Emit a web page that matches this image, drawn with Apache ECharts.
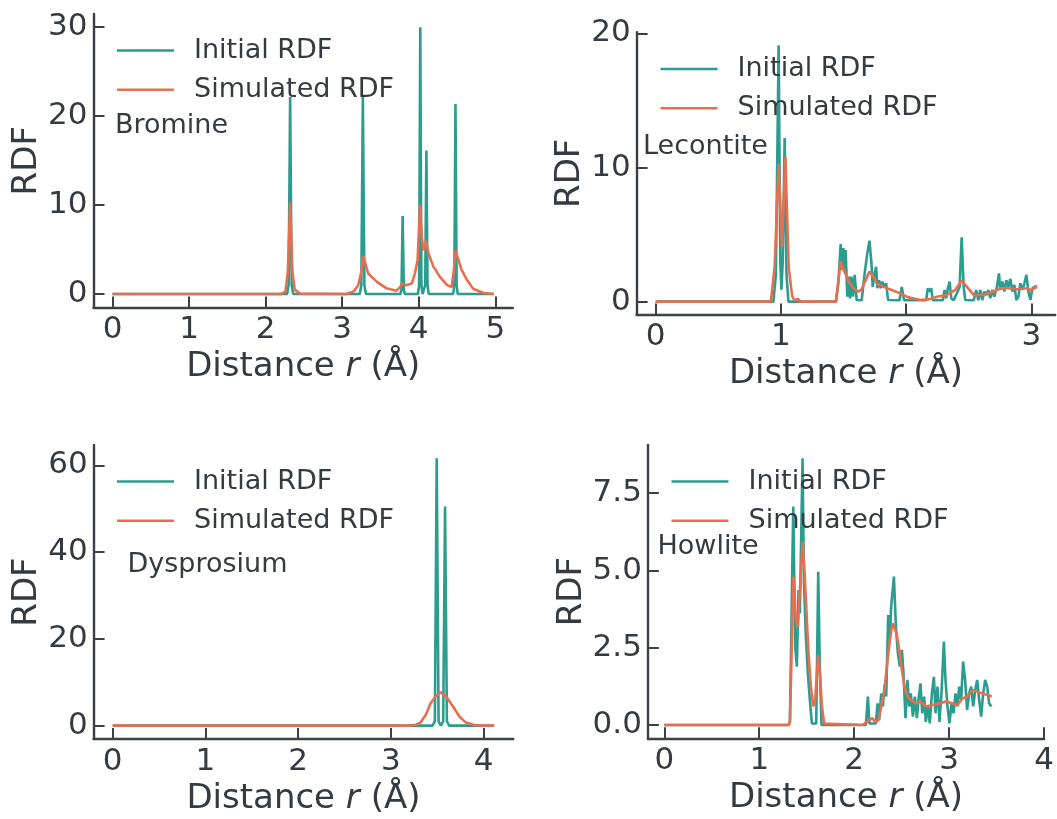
<!DOCTYPE html>
<html>
<head>
<meta charset="utf-8">
<script src="https://cdn.jsdelivr.net/npm/echarts@6/dist/echarts.min.js"></script>
<style>
html,body{margin:0;padding:0;background:#fff;}
#chart{width:1057px;height:819px;}
</style>
</head>
<body>
<div id="chart"></div>
<script>
// ---------- data (x = distance r in Å, y = RDF) ----------
const legendNames = ['Initial RDF', 'Simulated RDF'];
const panelNames = ['Bromine', 'Lecontite', 'Dysprosium', 'Howlite'];

const bromineInitial = [[0,0],[2.28,0],[2.30,1],[2.32,22.1],[2.34,1],[2.36,0],[3.23,0],[3.25,1],[3.27,22.1],[3.29,1],[3.31,0],[3.76,0],[3.775,0.5],[3.79,8.75],[3.805,0.5],[3.82,0],[3.99,0],[4.005,1],[4.02,29.9],[4.035,1],[4.05,0],[4.07,0],[4.085,1],[4.10,16.1],[4.115,1],[4.13,0],[4.45,0],[4.465,1],[4.48,21.3],[4.495,1],[4.51,0],[4.98,0]];
const bromineSimulated = [[0,0],[2.2,0],[2.26,0.3],[2.29,2.5],[2.32,10.3],[2.35,2.5],[2.38,0.5],[2.45,0.05],[3.05,0],[3.15,0.3],[3.21,1.0],[3.25,2.5],[3.276,4.27],[3.34,2.3],[3.45,1.4],[3.58,0.64],[3.71,0.38],[3.76,0.8],[3.78,1.2],[3.80,1.4],[3.84,1.0],[3.91,1.2],[3.95,2.3],[3.985,3.8],[4.017,10.0],[4.04,6.4],[4.06,4.9],[4.095,6.0],[4.125,4.6],[4.19,3.1],[4.28,1.9],[4.37,1.0],[4.43,0.8],[4.46,2.7],[4.48,4.9],[4.52,3.8],[4.56,2.7],[4.63,1.6],[4.71,0.6],[4.84,0.15],[4.98,0]];

const lecontiteInitial = [[0,0],[0.94,0],[0.96,2],[0.982,19.1],[0.995,3],[1.004,0.9],[1.015,3],[1.03,12.2],[1.045,2],[1.06,0],[1.44,0],[1.46,1.5],[1.477,4.3],[1.488,2.36],[1.499,4.0],[1.509,2.4],[1.517,3.85],[1.53,0.37],[1.541,1.86],[1.552,0.25],[1.563,1.86],[1.576,0.37],[1.589,2.0],[1.605,0.12],[1.645,0.1],[1.672,2.36],[1.69,3.6],[1.707,4.55],[1.723,2.86],[1.733,1.1],[1.747,2.0],[1.76,2.6],[1.771,1.0],[1.784,1.6],[1.797,1.0],[1.81,1.5],[1.824,1.1],[1.84,1.37],[1.856,0.12],[1.947,0.1],[1.965,1.1],[1.984,0.1],[2.16,0.1],[2.173,1.0],[2.187,0.75],[2.2,1.0],[2.213,0.1],[2.293,0.1],[2.307,0.87],[2.32,0.25],[2.333,1.0],[2.347,1.5],[2.36,0.25],[2.38,0.1],[2.427,1.1],[2.443,4.8],[2.459,1.1],[2.472,0.12],[2.539,0.1],[2.56,0.87],[2.576,0.1],[2.592,0.87],[2.608,0.1],[2.624,0.75],[2.64,0.5],[2.656,0.87],[2.672,0.25],[2.688,0.87],[2.704,0.37],[2.725,1.1],[2.741,2.1],[2.752,0.87],[2.768,1.5],[2.784,0.75],[2.8,1.6],[2.816,1.1],[2.832,1.7],[2.848,0.75],[2.864,1.25],[2.88,0.12],[2.896,0.37],[2.912,1.37],[2.928,0.87],[2.944,1.37],[2.96,2.0],[2.976,0.75],[2.992,0.12],[3.008,1.0],[3.024,1.1],[3.045,1.17]];
const lecontiteSimulated = [[0,0],[0.92,0],[0.95,2.6],[0.982,10.3],[1.009,4.1],[1.036,10.8],[1.062,2.6],[1.09,0.4],[1.11,0.1],[1.136,0.2],[1.16,0],[1.44,0],[1.459,1.6],[1.477,3.0],[1.499,2.36],[1.52,2.0],[1.541,1.5],[1.579,1.0],[1.619,0.75],[1.645,0.92],[1.672,1.5],[1.707,2.24],[1.739,1.86],[1.765,1.37],[1.819,1.1],[1.885,0.87],[1.952,0.62],[2.019,0.32],[2.112,0.12],[2.179,0.17],[2.245,0.37],[2.325,0.5],[2.392,0.87],[2.443,1.57],[2.485,1.1],[2.539,0.5],[2.619,0.5],[2.699,0.75],[2.752,1.0],[2.819,1.0],[2.885,0.92],[2.965,1.0],[2.997,0.87],[3.045,1.1]];

const dysprosiumInitial = [[0,0],[3.45,0],[3.475,1],[3.495,61.6],[3.515,1],[3.54,0],[3.565,1],[3.585,50.5],[3.605,1],[3.63,0],[4.115,0]];
const dysprosiumSimulated = [[0,0],[3.2,0],[3.27,0.2],[3.32,0.7],[3.378,2.5],[3.43,5.2],[3.49,6.9],[3.54,7.7],[3.61,6.3],[3.67,4.4],[3.74,2.1],[3.81,0.7],[3.90,0.16],[3.98,0],[4.115,0]];

const howliteInitial = [[0,0],[1.31,0],[1.323,0.1],[1.358,7.07],[1.379,2.53],[1.396,1.89],[1.414,4.37],[1.428,3.61],[1.456,8.63],[1.47,4.69],[1.491,2.86],[1.512,1.67],[1.533,0.81],[1.554,0.05],[1.6,0.05],[1.621,4.96],[1.639,1.67],[1.656,0],[2.123,0],[2.144,0.92],[2.16,0.05],[2.228,0.05],[2.246,0.7],[2.263,0.16],[2.284,1.02],[2.302,0.6],[2.319,1.3],[2.337,0.92],[2.358,3.56],[2.372,2.64],[2.389,3.83],[2.418,4.8],[2.439,3.18],[2.46,2.32],[2.481,1.89],[2.502,2.43],[2.519,1.67],[2.54,0.22],[2.561,1.46],[2.579,0.6],[2.596,1.02],[2.618,0.27],[2.639,0.92],[2.66,0.22],[2.677,0.81],[2.698,1.35],[2.716,0.38],[2.737,0.92],[2.754,0.1],[2.775,0.6],[2.796,0.05],[2.818,1.02],[2.839,1.56],[2.856,0.38],[2.877,1.24],[2.898,0.1],[2.919,1.02],[2.944,2.7],[2.961,1.46],[2.982,0.6],[3.003,0.05],[3.025,0.7],[3.046,0.38],[3.067,1.02],[3.088,0.6],[3.105,1.24],[3.126,0.81],[3.147,2.05],[3.168,1.46],[3.189,0.49],[3.21,1.02],[3.232,1.24],[3.253,0.6],[3.274,1.13],[3.295,1.46],[3.316,0.81],[3.337,0.27],[3.358,1.02],[3.379,1.46],[3.4,1.24],[3.421,0.7],[3.445,0.6]];
const howliteSimulated = [[0,0],[1.31,0],[1.323,0.1],[1.344,2.75],[1.361,4.8],[1.386,3.4],[1.407,3.18],[1.428,4.37],[1.456,5.93],[1.477,4.96],[1.498,3.61],[1.519,2.32],[1.544,1.24],[1.568,0.6],[1.589,0.81],[1.607,1.67],[1.621,2.27],[1.639,1.67],[1.66,0.6],[1.684,0.05],[2.088,0],[2.123,0.08],[2.158,0.16],[2.193,0.22],[2.221,0.1],[2.256,0.16],[2.284,0.6],[2.316,1.08],[2.344,1.89],[2.375,2.75],[2.404,3.29],[2.425,3.34],[2.446,2.97],[2.474,2.43],[2.502,1.78],[2.53,1.24],[2.561,0.92],[2.596,0.81],[2.649,0.7],[2.702,0.76],[2.754,0.6],[2.825,0.65],[2.895,0.7],[2.965,0.76],[3.035,0.7],[3.088,0.65],[3.14,0.86],[3.193,0.92],[3.246,1.13],[3.298,1.08],[3.351,1.02],[3.404,0.97],[3.449,0.92]];

// tick values
const xTicks1 = [0,1,2,3,4,5];
const yTicks1 = [0,10,20,30];
const xTicks2 = [0,1,2,3];
const yTicks2 = [0,10,20];
const xTicks3 = [0,1,2,3,4];
const yTicks3 = [0,20,40,60];
const xTicks4 = [0,1,2,3,4];
const yTicks4 = [0,2.5,5,7.5];

// ---------- styling ----------
const TEAL = '#2a9d8f';
const ORANGE = '#e76f51';
const INK = '#353a40';
const AXIS = '#3b4047';
const FONT = 'DejaVu Sans';

const panels = [
  {grid:{left:93.5, top:14, width:419.3, height:293.4}, x:[-0.249,5.229], y:[-1.495,31.4], xt:xTicks1, yt:yTicks1, yGap:48, fmt:v=>String(v),
   init:bromineInitial, sim:bromineSimulated, legend:{left:117, top:35.5}, label:{left:115, top:111}},
  {grid:{left:636.6, top:32.1, width:418.6, height:282.4}, x:[-0.152,3.19], y:[-0.957,20.09], xt:xTicks2, yt:yTicks2, yGap:45, fmt:v=>String(v),
   init:lecontiteInitial, sim:lecontiteSimulated, legend:{left:660.5, top:54}, label:{left:643, top:132}},
  {grid:{left:93.6, top:445, width:419.6, height:294}, x:[-0.206,4.32], y:[-3.08,64.68], xt:xTicks3, yt:yTicks3, yGap:48, fmt:v=>String(v),
   init:dysprosiumInitial, sim:dysprosiumSimulated, legend:{left:117, top:466.5}, label:{left:127.5, top:550}},
  {grid:{left:647.9, top:445, width:397.2, height:293.3}, x:[-0.1725,4.0], y:[-0.43,9.06], xt:xTicks4, yt:yTicks4, yGap:56, fmt:v=>v.toFixed(1),
   init:howliteInitial, sim:howliteSimulated, legend:{left:671.5, top:466.5}, label:{left:657.5, top:532}}
];

const grid = [], xAxis = [], yAxis = [], series = [], legend = [], title = [];
panels.forEach((p, i) => {
  grid.push(Object.assign({containLabel:false}, p.grid));
  const common = {
    axisLine:{show:true, onZero:false, lineStyle:{color:AXIS, width:2.4}},
    splitLine:{show:false},
  };
  xAxis.push(Object.assign({}, common, {
    type:'value', gridIndex:i, min:p.x[0], max:p.x[1],
    axisTick:{show:true, inside:true, length:11, lineStyle:{color:AXIS, width:2}, customValues:p.xt},
    axisLabel:{show:true, margin:7, color:INK, fontSize:31, fontFamily:FONT, customValues:p.xt, formatter:v=>String(v)},
    name:'Distance {i|r} (Å)', nameLocation:'middle', nameGap:43,
    nameTextStyle:{color:INK, fontSize:34, fontFamily:FONT, rich:{i:{fontStyle:'italic', fontSize:34, fontFamily:FONT, color:INK}}}
  }));
  yAxis.push(Object.assign({}, common, {
    type:'value', gridIndex:i, min:p.y[0], max:p.y[1],
    axisTick:{show:true, inside:true, length:11, lineStyle:{color:AXIS, width:2}, customValues:p.yt},
    axisLabel:{show:true, margin:6, color:INK, fontSize:31, fontFamily:FONT, customValues:p.yt, formatter:p.fmt},
    name:'RDF', nameLocation:'middle', nameGap:p.yGap, nameRotate:90,
    nameTextStyle:{color:INK, fontSize:34, fontFamily:FONT}
  }));
  series.push({
    name:legendNames[0], type:'line', xAxisIndex:i, yAxisIndex:i, data:p.init,
    showSymbol:false, symbol:'none', lineStyle:{color:TEAL, width:2.6}, itemStyle:{color:TEAL}, z:2
  });
  series.push({
    name:legendNames[1], type:'line', xAxisIndex:i, yAxisIndex:i, data:p.sim,
    showSymbol:false, symbol:'none', lineStyle:{color:ORANGE, width:2.6}, itemStyle:{color:ORANGE}, z:3
  });
  legend.push({
    data:legendNames, orient:'vertical', left:p.legend.left, top:p.legend.top, padding:0,
    icon:'rect', itemWidth:57, itemHeight:2.6, itemGap:9.3,
    textStyle:{color:INK, fontSize:27, fontFamily:FONT, lineHeight:30, padding:[0,0,0,15]},
    selectedMode:false
  });
  title.push({
    text:panelNames[i], left:p.label.left, top:p.label.top, padding:0,
    textStyle:{color:INK, fontSize:27, fontWeight:'normal', fontFamily:FONT, lineHeight:30}
  });
});

const chart = echarts.init(document.getElementById('chart'), null, {renderer:'canvas'});
chart.setOption({animation:false, backgroundColor:'#fff', grid, xAxis, yAxis, series, legend, title});
</script>
</body>
</html>
